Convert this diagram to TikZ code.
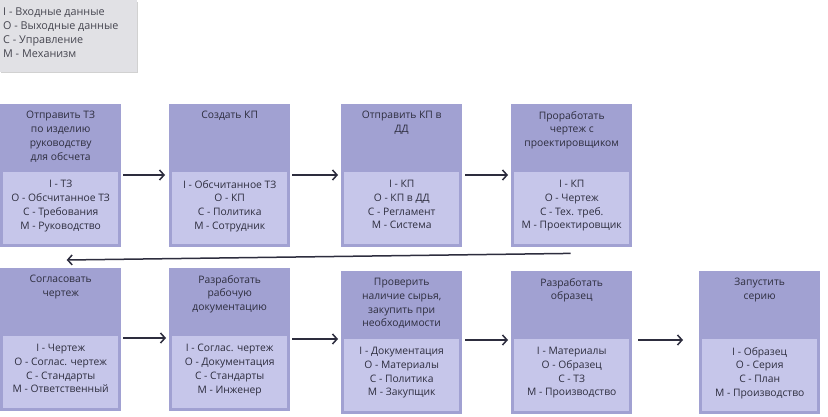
\documentclass[tikz,border=0pt]{standalone}
\usepackage{fontspec}
\setmainfont{Open Sans}
\usetikzlibrary{arrows.meta}
\definecolor{outerc}{RGB}{161,161,210}
\definecolor{innerc}{RGB}{198,198,234}
\definecolor{txtc}{RGB}{45,45,62}
\definecolor{legc}{RGB}{225,225,229}
\definecolor{legtxt}{RGB}{70,70,80}
\tikzset{
  outerbox/.style={rectangle, fill=outerc, draw=none, minimum width=121pt, minimum height=143pt, inner sep=0pt, anchor=north west},
  innerbox/.style={rectangle, fill=innerc, draw=none, minimum width=115pt, minimum height=72pt, inner sep=0pt, anchor=south},
  boxtext/.style={inner sep=0pt, align=center, text=txtc, font=\fontsize{10.3}{13.8}\selectfont, anchor=north},
  legendbox/.style={rectangle, fill=legc, minimum width=137pt, minimum height=72pt, inner sep=0pt, anchor=north west},
  legendtext/.style={inner sep=0pt, align=left, text=legtxt, font=\fontsize{10.8}{13.7}\selectfont, anchor=north west},
  arr/.style={draw=txtc, line width=1.5pt, -{Straight Barb[length=4.5pt,width=10pt,line width=1.5pt]}},
}
\newcommand{\procbox}[5]{%
  \node[outerbox] (#1) at (#2,#3) {};
  \node[innerbox] (#1i) at ([yshift=3pt]#1.south) {};
  \node[boxtext] (#1t) at ([yshift=-7pt]#1.north) {#4};
  \node[boxtext] (#1d) at ([yshift=-8pt]#1i.north) {#5};
}
\begin{document}
\begin{tikzpicture}[x=1pt,y=-1pt]
\useasboundingbox (0,0) rectangle (828,417);
\fill[white] (0,0) rectangle (828,417);
% legend
\fill[black!18] (1,2) rectangle (138,73.5);
\node[legendbox] (legend) at (0,0) {};
\node[legendtext] (legendt) at ([xshift=3pt,yshift=-8pt]legend.north west) {I - Входные данные\\O - Выходные данные\\C - Управление\\M - Механизм};
% top row
\procbox{b1}{0}{104}{Отправить ТЗ\\по изделию\\руководству\\для обсчета}{I - ТЗ\\O - Обсчитанное ТЗ\\C - Требования\\M - Руководство}
\procbox{b2}{169}{104}{Создать КП}{I - Обсчитанное ТЗ\\O - КП\\C - Политика\\M - Сотрудник}
\procbox{b3}{341}{104}{Отправить КП в\\ДД}{I - КП\\O - КП в ДД\\C - Регламент\\M - Система}
\procbox{b4}{511}{104}{Проработать\\чертеж с\\проектировщиком}{I - КП\\O - Чертеж\\C - Тех. треб.\\M - Проектировщик}
% bottom row
\procbox{b5}{0}{268}{Согласовать\\чертеж}{I - Чертеж\\O - Соглас. чертеж\\C - Стандарты\\M - Ответственный}
\procbox{b6}{169}{268}{Разработать\\рабочую\\документацию}{I - Соглас. чертеж\\O - Документация\\C - Стандарты\\M - Инженер}
\procbox{b7}{341}{271}{Проверить\\наличие сырья,\\закупить при\\необходимости}{I - Документация\\O - Материалы\\C - Политика\\M - Закупщик}
\procbox{b8}{511}{271}{Разработать\\образец}{I - Материалы\\O - Образец\\C - ТЗ\\M - Производство}
\procbox{b9}{699}{271}{Запустить\\серию}{I - Образец\\O - Серия\\C - План\\M - Производство}
% arrows top row
\draw[arr] ([xshift=2pt,yshift=-71pt]b1.north east) -- ([xshift=-4pt,yshift=-71pt]b2.north west);
\draw[arr] ([xshift=2pt,yshift=-71pt]b2.north east) -- ([xshift=-3pt,yshift=-71pt]b3.north west);
\draw[arr] ([xshift=3pt,yshift=-71pt]b3.north east) -- ([xshift=-3pt,yshift=-71pt]b4.north west);
% return arrow
\draw[arr] ([xshift=-1pt,yshift=-6pt]b4.south) -- ([xshift=6pt,yshift=8pt]b5.north);
% arrows bottom row
\draw[arr] ([xshift=2pt,yshift=-70pt]b5.north east) -- ([xshift=-3pt,yshift=-70pt]b6.north west);
\draw[arr] ([xshift=2pt,yshift=-71pt]b6.north east) -- ([xshift=-3pt,yshift=-68pt]b7.north west);
\draw[arr] ([xshift=3pt,yshift=-69pt]b7.north east) -- ([xshift=-3pt,yshift=-69pt]b8.north west);
\draw[arr] ([xshift=6pt,yshift=-69pt]b8.north east) -- ([xshift=-16pt,yshift=-69pt]b9.north west);
\end{tikzpicture}
\end{document}
